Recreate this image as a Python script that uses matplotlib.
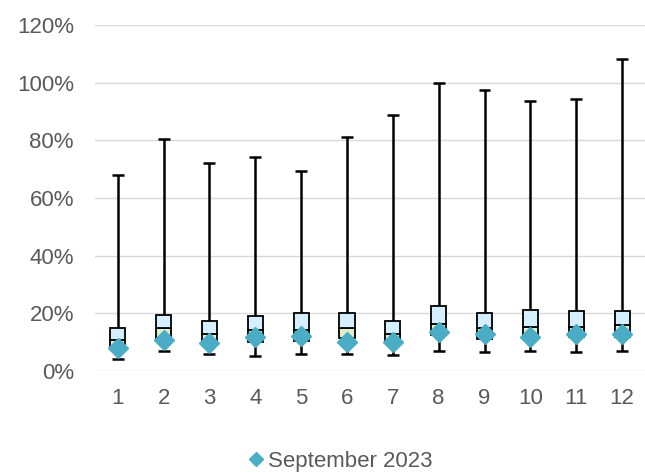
import matplotlib
matplotlib.use("Agg")
import matplotlib.pyplot as plt
from matplotlib.ticker import FuncFormatter
from matplotlib.lines import Line2D

plt.rcParams['font.family'] = ['Liberation Sans', 'DejaVu Sans']

months = [1, 2, 3, 4, 5, 6, 7, 8, 9, 10, 11, 12]
whisker_low = [4.3, 6.8, 5.9, 5.2, 5.8, 6.0, 5.5, 7.0, 6.5, 6.8, 6.7, 6.9]
q1 = [7.7, 10.4, 9.4, 9.9, 10.4, 11.3, 10.2, 12.6, 11.1, 11.4, 11.7, 11.9]
median = [10.6, 14.8, 12.7, 14.2, 14.1, 14.8, 12.7, 16.3, 14.8, 15.1, 15.1, 15.8]
q3 = [15.0, 19.5, 17.3, 19.1, 20.0, 20.2, 17.2, 22.5, 20.1, 21.3, 20.7, 20.7]
whisker_high = [68.0, 80.3, 72.2, 74.3, 69.2, 81.3, 88.7, 100.0, 97.5, 93.8, 94.4, 108.2]
sep_2023 = [7.9, 10.7, 9.8, 11.9, 12.1, 10.2, 10.2, 13.4, 12.7, 11.9, 12.7, 12.8]
series_label = "September 2023"

fig = plt.figure(figsize=(6.45, 4.73), dpi=100)
ax = fig.add_axes([0.147, 0.2156, 0.853, 0.7315])

grey_text = '#595959'
box_w = 0.33
cap_w = 0.26

for i, m in enumerate(months):
    ax.vlines(m, q3[i], whisker_high[i], color='black', lw=1.8, zorder=2)
    ax.vlines(m, whisker_low[i], q1[i], color='black', lw=1.8, zorder=2)
    ax.hlines([whisker_low[i], whisker_high[i]], m - cap_w / 2, m + cap_w / 2, color='black', lw=1.8, zorder=2)

ax.bar(months, [md - a for md, a in zip(median, q1)], bottom=q1, width=box_w,
       color='#E2EFCB', edgecolor='black', linewidth=1.3, zorder=3)
ax.bar(months, [b - md for b, md in zip(q3, median)], bottom=median, width=box_w,
       color='#D6EFFF', edgecolor='black', linewidth=1.3, zorder=3)

ax.plot(months, sep_2023, linestyle='none', marker='D', markersize=10,
        color='#4BACC6', markeredgecolor='#4BACC6', zorder=4)

ax.set_xlim(0.5, 12.5)
ax.set_ylim(0, 120)
ax.set_yticks(range(0, 121, 20))
ax.yaxis.set_major_formatter(FuncFormatter(lambda v, p: f"{int(v)}%"))
ax.set_xticks(months)
ax.set_xticklabels([str(m) for m in months])
ax.grid(axis='y', color='#D9D9D9', linewidth=1.0, zorder=0)
ax.set_axisbelow(True)
for s in ax.spines.values():
    s.set_visible(False)
ax.tick_params(axis='both', length=0, labelsize=16, colors=grey_text)
ax.tick_params(axis='x', pad=12)
ax.tick_params(axis='y', pad=15)

handle = Line2D([], [], linestyle='none', marker='D', markersize=7.5,
                color='#4BACC6')
fig.legend([handle], [series_label], loc='center', bbox_to_anchor=(0.525, 0.025),
           frameon=False, fontsize=16, handletextpad=0.05, labelcolor=grey_text,
           handlelength=1.0)

fig.savefig("out.png", dpi=100)
